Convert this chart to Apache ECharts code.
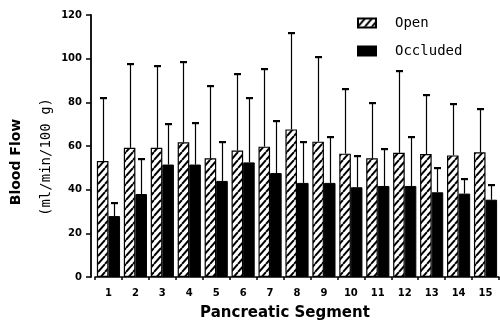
<!DOCTYPE html>
<html><head><meta charset="utf-8">
<script src="https://cdn.jsdelivr.net/npm/echarts@6/dist/echarts.min.js"></script>
<style>html,body{margin:0;padding:0;background:#fff}#c{width:500px;height:324px}</style>
</head><body><div id="c"></div>
<script>
var categories = ['1','2','3','4','5','6','7','8','9','10','11','12','13','14','15'];
var openMean = [53.1,59.2,59.2,61.7,54.4,57.9,59.7,67.6,62.0,56.5,54.4,56.9,56.3,55.7,57.1];
var openErrTop = [81.8,97.4,96.8,98.3,87.5,93.0,95.1,111.6,100.8,86.0,79.8,94.4,83.4,79.1,77.1];
var occMean = [27.9,38.0,51.5,51.5,44.0,52.5,47.6,43.1,43.1,41.1,41.7,41.7,38.8,38.2,35.4];
var occErrTop = [33.7,53.9,70.1,70.7,61.7,82.1,71.6,61.7,64.3,55.4,58.5,64.0,50.1,44.9,42.0];
var yTicks = [0,20,40,60,80,100,120];

var tile = document.createElement('canvas');
var tw = 7, th = 8; tile.width = tw; tile.height = th;
var g = tile.getContext('2d');
g.fillStyle = '#fff'; g.fillRect(0,0,tw,th);
g.strokeStyle = '#000'; g.lineWidth = 2;
g.beginPath();
g.moveTo(0,th); g.lineTo(tw,0);
g.moveTo(-tw,th); g.lineTo(0,0);
g.moveTo(tw,th); g.lineTo(2*tw,0);
g.stroke();

var CAT_GAP = 0.14;
function errSeries(name, tops, side) {
  return {
    type: 'custom', name: name + ' err', z: 3,
    data: tops.map(function (v, i) { return [i, v, (side < 0 ? openMean : occMean)[i]]; }),
    renderItem: function (params, api) {
      var cw = api.size([1, 0])[0];
      var bw = cw * (1 - CAT_GAP) / 2;
      var top = api.coord([api.value(0), api.value(1)]);
      var base = api.coord([api.value(0), api.value(2)]);
      var x = Math.round(top[0] + side * bw / 2) + 0.5;
      var ty = Math.round(top[1]);
      return { type: 'group', children: [
        { type: 'line', shape: { x1: x, y1: base[1], x2: x, y2: ty }, style: { stroke: '#000', lineWidth: 1.2 } },
        { type: 'rect', shape: { x: x - 3.5, y: ty - 1, width: 7, height: 2.2 }, style: { fill: '#000' } }
      ]};
    }
  };
}

var chart = echarts.init(document.getElementById('c'), null, { renderer: 'canvas' });
chart.setOption({
  animation: false,
  grid: { left: 95, right: 1, top: 15, bottom: 47 },
  legend: {
    data: ['Open', 'Occluded'], orient: 'vertical', left: 352, top: 11,
    itemWidth: 18, itemHeight: 9, itemGap: 14, icon: 'rect',
    textStyle: { fontFamily: 'DejaVu Sans Mono', fontSize: 14, color: '#000', padding: [0, 0, 0, 14] }
  },
  xAxis: {
    type: 'category', data: categories,
    axisLine: { lineStyle: { color: '#000', width: 1.5 } },
    axisTick: { show: true, length: 3, lineStyle: { color: '#000', width: 1.5 } },
    axisLabel: { color: '#000', fontFamily: 'DejaVu Sans', fontWeight: 'bold', fontSize: 10, margin: 11 }
  },
  yAxis: {
    type: 'value', min: 0, max: 120, interval: 20, offset: 4,
    axisLine: { show: true, lineStyle: { color: '#000', width: 1.8 } },
    axisTick: { show: true, length: 5, lineStyle: { color: '#000', width: 1.5 } },
    splitLine: { show: false },
    axisLabel: { color: '#000', fontFamily: 'DejaVu Sans', fontWeight: 'bold', fontSize: 10, margin: 9,
      formatter: function (v) { return yTicks.indexOf(v) >= 0 ? String(v) : ''; } }
  },
  graphic: [
    { type: 'text', style: { text: 'Blood Flow', fill: '#000', font: 'bold 14px "DejaVu Sans"', textAlign: 'center', textVerticalAlign: 'middle' }, x: 16, y: 162, rotation: Math.PI / 2 },
    { type: 'text', style: { text: '(ml/min/100 g)', fill: '#000', font: '14px "DejaVu Sans Mono"', textAlign: 'center', textVerticalAlign: 'middle' }, x: 46, y: 157, rotation: Math.PI / 2 },
    { type: 'text', style: { text: 'Pancreatic Segment', fill: '#000', font: 'bold 15px "DejaVu Sans"', textAlign: 'center', textVerticalAlign: 'middle' }, x: 285, y: 313 }
  ],
  series: [
    { name: 'Open', type: 'bar', data: openMean, barGap: '0%', barCategoryGap: (CAT_GAP * 100) + '%',
      itemStyle: { color: { image: tile, repeat: 'repeat' }, borderColor: '#000', borderWidth: 1.2 } },
    { name: 'Occluded', type: 'bar', data: occMean,
      itemStyle: { color: '#000', borderColor: '#000', borderWidth: 1 } },
    errSeries('Open', openErrTop, -1),
    errSeries('Occluded', occErrTop, 1)
  ]
});
</script></body></html>
